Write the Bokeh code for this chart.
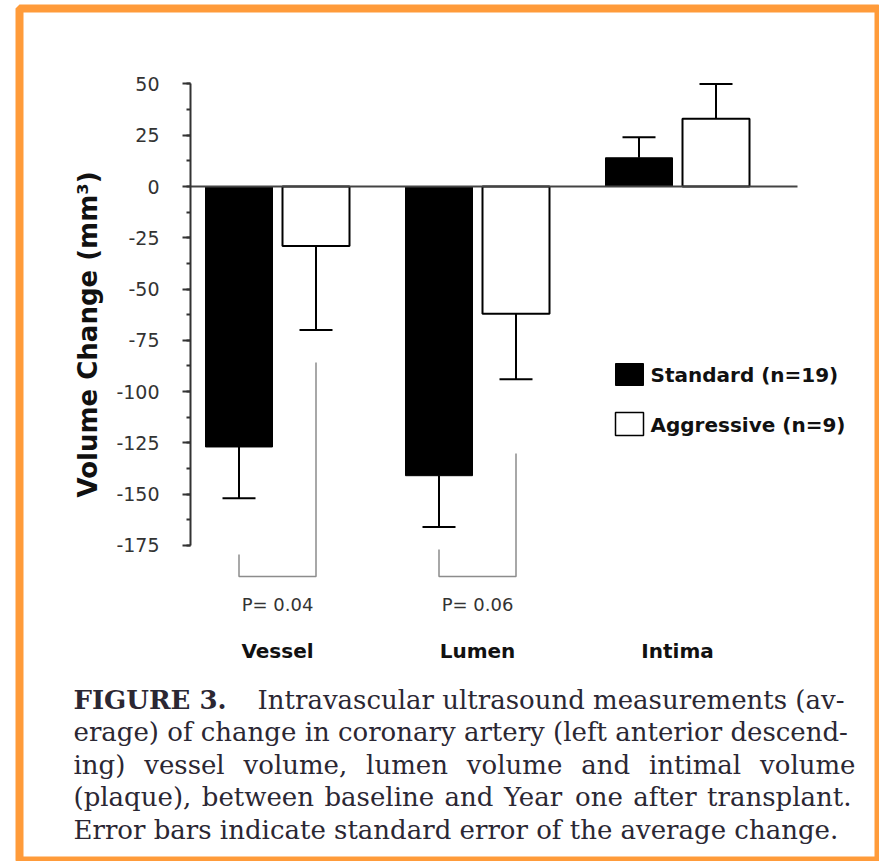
import math
from bokeh.plotting import figure
from bokeh.models import LinearAxis, Range1d, SingleIntervalTicker, PrintfTickFormatter
from bokeh.core.properties import value
from bokeh.embed import file_html
from bokeh.resources import INLINE

# ---------------- data ----------------
categories = ["Vessel", "Lumen", "Intima"]
standard = [-127, -141, 14]
aggressive = [-29, -62, 33]
se_standard = [25, 25, 10]
se_aggressive = [41, 32, 17]
p_values = ["P= 0.04", "P= 0.06"]
series_labels = ["Standard (n=19)", "Aggressive (n=9)"]
y_label = "Volume Change (mm³)"
caption_head = "FIGURE 3."
caption_lines = [
    "Intravascular ultrasound measurements (av-",
    "erage) of change in coronary artery (left anterior descend-",
    "ing) vessel volume, lumen volume and intimal volume",
    "(plaque), between baseline and Year one after transplant.",
    "Error bars indicate standard error of the average change.",
]

# ---------------- geometry helpers ----------------
W, H = 879, 861
FRAME_L, FRAME_T = 19, 8
X0_PX, X_SCALE = 277.0, 200.0      # pixel of first group centre, px per group
Y0_PX, Y_SCALE = 186.0, 2.051      # pixel of zero, px per mm3


def dx(px):
    return (px - X0_PX) / X_SCALE


def dy(py):
    return (Y0_PX - py) / Y_SCALE


p = figure(width=W, height=H, output_backend="svg", toolbar_location=None,
           x_range=Range1d(dx(FRAME_L), dx(W)), y_range=Range1d(dy(H), dy(FRAME_T)),
           x_axis_type=None, y_axis_type=None,
           min_border_left=FRAME_L, min_border_top=FRAME_T,
           min_border_right=0, min_border_bottom=0)
p.outline_line_color = "#FF9B3A"
p.outline_line_width = 8
p.background_fill_color = "white"
p.border_fill_color = "white"

# ---------------- y axis ----------------
yaxis = LinearAxis(fixed_location=dx(190), bounds=(-175, 50),
                   ticker=SingleIntervalTicker(interval=25, num_minor_ticks=2),
                   formatter=PrintfTickFormatter(format="%d"))
yaxis.axis_line_color = "#333333"
yaxis.axis_line_width = 2
yaxis.major_tick_out = 8
yaxis.major_tick_in = 0
yaxis.minor_tick_out = 4
yaxis.minor_tick_in = 0
yaxis.major_tick_line_color = "#333333"
yaxis.minor_tick_line_color = "#333333"
yaxis.major_tick_line_width = 2
yaxis.minor_tick_line_width = 2
yaxis.major_label_text_font = "DejaVu Sans"
yaxis.major_label_text_font_size = "19px"
yaxis.major_label_text_color = "#333333"
yaxis.major_label_standoff = 23
p.add_layout(yaxis, "left")

# ---------------- bars ----------------
xs = list(range(len(categories)))
OFF, BW, CAP = 0.1925, 0.335, 0.0825
std_x = [x - OFF for x in xs]
agg_x = [x + OFF for x in xs]

p.vbar(x=std_x, top=standard, bottom=0, width=BW, fill_color="black",
       line_color="black", line_width=1)
p.vbar(x=agg_x, top=aggressive, bottom=0, width=BW, fill_color="white",
       line_color="black", line_width=2)

# zero line
p.segment(x0=[dx(190)], y0=[0], x1=[dx(797)], y1=[0], line_color="#444444", line_width=2)

# error bars (away from zero)
for bx, vals, ses in ((std_x, standard, se_standard), (agg_x, aggressive, se_aggressive)):
    ends = [v + math.copysign(s, v) for v, s in zip(vals, ses)]
    p.segment(x0=bx, y0=vals, x1=bx, y1=ends, line_color="black", line_width=2)
    p.segment(x0=[x - CAP for x in bx], y0=ends, x1=[x + CAP for x in bx], y1=ends,
              line_color="black", line_width=2)

# significance brackets
left_tops = [dy(554), dy(549)]
right_tops = [dy(362), dy(453)]
br_bottom = dy(576)
p.multi_line(xs=[[std_x[i], std_x[i], agg_x[i], agg_x[i]] for i in range(2)],
             ys=[[left_tops[i], br_bottom, br_bottom, right_tops[i]] for i in range(2)],
             line_color="#8c8c8c", line_width=1.5)

p.text(x=xs[:2], y=[dy(604)] * 2, text=p_values, text_align="center",
       text_baseline="middle", text_font=value("DejaVu Sans"), text_font_size="18px",
       text_color="#333333")

# category labels
p.text(x=xs, y=[dy(650)] * 3, text=categories, text_align="center",
       text_baseline="middle", text_font=value("DejaVu Sans"), text_font_size="20px",
       text_font_style="bold", text_color="#111111")

# legend
p.quad(left=[dx(615)], right=[dx(643)], top=[dy(363)], bottom=[dy(385)],
       fill_color="black", line_color="black", line_width=1)
p.quad(left=[dx(615)], right=[dx(643)], top=[dy(412)], bottom=[dy(435)],
       fill_color="white", line_color="black", line_width=1.5)
p.text(x=[dx(650)] * 2, y=[dy(374), dy(424)], text=series_labels, text_align="left",
       text_baseline="middle", text_font=value("DejaVu Sans"), text_font_size="20px",
       text_font_style="bold", text_color="#111111")

# y axis title
p.text(x=[dx(87)], y=[dy(334)], text=[y_label], angle=math.pi / 2, text_align="center",
       text_baseline="middle", text_font=value("DejaVu Sans"), text_font_size="26px",
       text_font_style="bold", text_color="#111111")

# ---------------- caption ----------------
CAP_COLOR = "#2b2733"
CAP_FONT = value("DejaVu Serif")
CAP_SIZE = 26
baselines = [699, 731.5, 764, 796.5, 829]

p.text(x=[dx(73)], y=[dy(baselines[0])], text=[caption_head], text_align="left",
       text_baseline="alphabetic", text_font=CAP_FONT, text_font_size=f"{CAP_SIZE}px",
       text_font_style="bold", text_color=CAP_COLOR)
p.text(x=[dx(257), dx(73), dx(73)],
       y=[dy(baselines[0]), dy(baselines[1]), dy(baselines[4])],
       text=[caption_lines[0], caption_lines[1], caption_lines[4]],
       text_align="left", text_baseline="alphabetic", text_font=CAP_FONT,
       text_font_size=f"{CAP_SIZE}px", text_color=CAP_COLOR)

# justified lines 3 and 4 (word by word)
WID = {' ': .318, 'a': .596, 'b': .640, 'c': .560, 'd': .640, 'e': .592, 'f': .370,
       'g': .640, 'h': .644, 'i': .320, 'j': .310, 'k': .606, 'l': .320, 'm': .948,
       'n': .644, 'o': .602, 'p': .640, 'q': .640, 'r': .478, 's': .513, 't': .402,
       'u': .644, 'v': .565, 'w': .856, 'x': .564, 'y': .565, 'z': .527, 'Y': .667,
       '(': .390, ')': .390, ',': .318, '.': .318, '-': .338}


def tw(s):
    return sum(WID.get(c, 0.6) for c in s) * CAP_SIZE


for line_idx, R in ((2, 855), (3, 851)):
    words = caption_lines[line_idx].split()
    L = 73
    gap = (R - L - sum(tw(w) for w in words)) / (len(words) - 1)
    wx, cur = [], L
    for w in words:
        wx.append(cur)
        cur += tw(w) + gap
    by = dy(baselines[line_idx])
    p.text(x=[dx(v) for v in wx[:-1]], y=[by] * (len(words) - 1), text=words[:-1],
           text_align="left", text_baseline="alphabetic", text_font=CAP_FONT,
           text_font_size=f"{CAP_SIZE}px", text_color=CAP_COLOR)
    p.text(x=[dx(R)], y=[by], text=[words[-1]],
           text_align="right", text_baseline="alphabetic", text_font=CAP_FONT,
           text_font_size=f"{CAP_SIZE}px", text_color=CAP_COLOR)

open("out.html", "w").write(file_html(p, INLINE))
